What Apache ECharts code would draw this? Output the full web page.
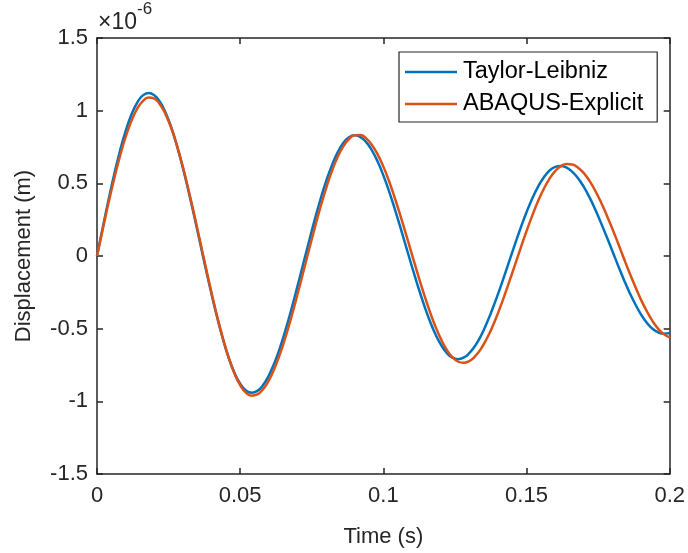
<!DOCTYPE html>
<html>
<head>
<meta charset="utf-8">
<script src="https://cdn.jsdelivr.net/npm/echarts@6/dist/echarts.min.js"></script>
<style>html,body{margin:0;padding:0;background:#fff;}#c{width:688px;height:553px;}</style>
</head>
<body>
<div id="c"></div>
<script>
// Time samples (s) shared by both series
const timeS = [0,0.002,0.004,0.006,0.008,0.010,0.012,0.014,0.016,0.018,0.020,0.022,0.024,0.026,0.028,0.030,0.032,0.034,0.036,0.038,0.040,0.042,0.044,0.046,0.048,0.050,0.052,0.054,0.056,0.058,0.060,0.062,0.064,0.066,0.068,0.070,0.072,0.074,0.076,0.078,0.080,0.082,0.084,0.086,0.088,0.090,0.092,0.094,0.096,0.098,0.100,0.102,0.104,0.106,0.108,0.110,0.112,0.114,0.116,0.118,0.120,0.122,0.124,0.126,0.128,0.130,0.132,0.134,0.136,0.138,0.140,0.142,0.144,0.146,0.148,0.150,0.152,0.154,0.156,0.158,0.160,0.162,0.164,0.166,0.168,0.170,0.172,0.174,0.176,0.178,0.180,0.182,0.184,0.186,0.188,0.190,0.192,0.194,0.196,0.198,0.200];
// Displacement values in units of 1e-6 m
const dispTaylor = [0,0.195,0.384,0.561,0.721,0.859,0.972,1.054,1.105,1.122,1.106,1.060,0.984,0.881,0.753,0.606,0.443,0.270,0.090,-0.089,-0.262,-0.425,-0.573,-0.700,-0.803,-0.879,-0.925,-0.941,-0.928,-0.888,-0.822,-0.734,-0.625,-0.498,-0.358,-0.209,-0.056,0.098,0.247,0.387,0.514,0.622,0.711,0.777,0.817,0.830,0.818,0.784,0.727,0.650,0.555,0.445,0.323,0.194,0.060,-0.074,-0.203,-0.325,-0.435,-0.530,-0.607,-0.664,-0.698,-0.710,-0.700,-0.669,-0.619,-0.552,-0.467,-0.370,-0.264,-0.150,-0.034,0.083,0.196,0.301,0.396,0.476,0.540,0.587,0.613,0.620,0.608,0.579,0.535,0.475,0.403,0.320,0.228,0.132,0.033,-0.067,-0.163,-0.253,-0.332,-0.403,-0.459,-0.501,-0.526,-0.535,-0.530];
const dispAbaqus = [0,0.184,0.364,0.532,0.685,0.819,0.929,1.012,1.066,1.090,1.082,1.043,0.973,0.877,0.755,0.612,0.451,0.280,0.101,-0.078,-0.254,-0.420,-0.569,-0.701,-0.808,-0.889,-0.940,-0.961,-0.952,-0.916,-0.856,-0.772,-0.668,-0.547,-0.411,-0.265,-0.113,0.040,0.190,0.334,0.466,0.582,0.679,0.754,0.805,0.831,0.832,0.809,0.764,0.699,0.615,0.514,0.399,0.274,0.144,0.010,-0.123,-0.250,-0.369,-0.476,-0.567,-0.641,-0.694,-0.726,-0.735,-0.723,-0.691,-0.641,-0.573,-0.491,-0.395,-0.288,-0.175,-0.059,0.058,0.171,0.278,0.376,0.461,0.531,0.584,0.618,0.633,0.629,0.608,0.570,0.517,0.449,0.370,0.281,0.186,0.086,-0.017,-0.117,-0.212,-0.302,-0.380,-0.448,-0.501,-0.539,-0.560];
const seriesNames = ['Taylor-Leibniz','ABAQUS-Explicit'];
const xTickLabels = ['0','0.05','0.1','0.15','0.2'];
const yTickLabels = ['-1.5','-1','-0.5','0','0.5','1','1.5'];

const zip = (t, v) => t.map((x, i) => [x, v[i]]);
const FONT = 'Liberation Sans, Arial, Helvetica, sans-serif';
const AX = '#262626';
const FS = 22;

const chart = echarts.init(document.getElementById('c'), null, {renderer: 'canvas'});
const axisCommon = {
  axisLine: {show: true, onZero: false, lineStyle: {color: AX, width: 1.5}},
  axisTick: {show: true, inside: true, length: 6, lineStyle: {color: AX, width: 1.5}},
  splitLine: {show: false}
};
chart.setOption({
  animation: false,
  backgroundColor: '#fff',
  grid: {left: 97, right: 18, top: 38, bottom: 78, containLabel: false},
  xAxis: [
    Object.assign({
      type: 'value', min: 0, max: 0.2, interval: 0.05, position: 'bottom',
      name: 'Time (s)', nameLocation: 'middle', nameGap: 52,
      nameTextStyle: {color: AX, fontSize: FS, fontFamily: FONT},
      axisLabel: {color: AX, fontSize: FS, fontFamily: FONT, margin: 11,
        formatter: (v) => xTickLabels[Math.round(v / 0.05)]}
    }, axisCommon),
    Object.assign({
      type: 'value', min: 0, max: 0.2, interval: 0.05, position: 'top',
      axisLabel: {show: false}
    }, axisCommon)
  ],
  yAxis: [
    Object.assign({
      type: 'value', min: -1.5, max: 1.5, interval: 0.5, position: 'left',
      name: 'Displacement (m)', nameLocation: 'middle', nameGap: 62,
      nameTextStyle: {color: AX, fontSize: FS, fontFamily: FONT},
      axisLabel: {color: AX, fontSize: FS, fontFamily: FONT, margin: 9,
        formatter: (v) => yTickLabels[Math.round((v + 1.5) / 0.5)]}
    }, axisCommon),
    Object.assign({
      type: 'value', min: -1.5, max: 1.5, interval: 0.5, position: 'right',
      axisLabel: {show: false}
    }, axisCommon)
  ],
  legend: {
    orient: 'vertical', left: 399, top: 52,
    backgroundColor: '#fff', borderColor: AX, borderWidth: 1.2,
    padding: [8, 14, 6, 6],
    icon: 'rect', itemWidth: 52, itemHeight: 2.5, itemGap: 8,
    textStyle: {color: '#000', fontSize: 23.5, fontFamily: FONT, lineHeight: 20, padding: [0, 0, 0, 1]},
    data: seriesNames
  },
  graphic: [{
    type: 'text', left: 98, top: 1,
    style: {
      text: '{a|×10}{b|-6}',
      rich: {
        a: {fontSize: 23, fontFamily: FONT, fill: AX, verticalAlign: 'bottom', padding: [10, 0, 0, 0]},
        b: {fontSize: 17, fontFamily: FONT, fill: AX, verticalAlign: 'top'}
      }
    }
  }],
  series: [
    {name: seriesNames[0], type: 'line', data: zip(timeS, dispTaylor), smooth: true, showSymbol: false,
      lineStyle: {color: '#0072BD', width: 2.5, join: 'round'}, itemStyle: {color: '#0072BD'}},
    {name: seriesNames[1], type: 'line', data: zip(timeS, dispAbaqus), smooth: true, showSymbol: false,
      lineStyle: {color: '#D95319', width: 2.5, join: 'round'}, itemStyle: {color: '#D95319'}}
  ]
});
</script>
</body>
</html>
